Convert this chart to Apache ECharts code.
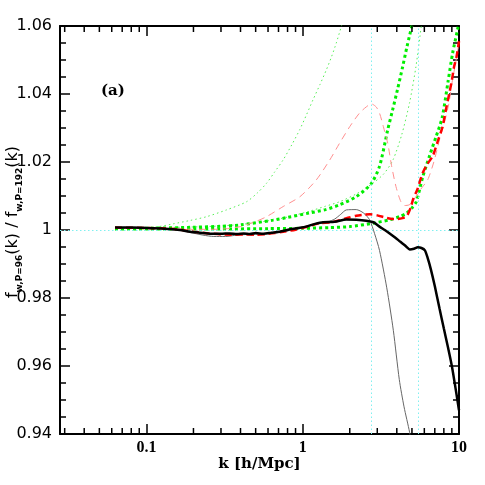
<!DOCTYPE html>
<html><head><meta charset="utf-8">
<script src="https://cdn.jsdelivr.net/npm/echarts@6/dist/echarts.min.js"></script>
<style>html,body{margin:0;padding:0;background:#fff}#c{width:485px;height:485px}</style>
</head><body><div id="c"></div>
<script>
// ---- axis ranges and ticks ----
const xMin = 0.028, xMax = 10;
const yMin = 0.94, yMax = 1.06;
const xMinorTicks = [0.03,0.04,0.05,0.06,0.07,0.08,0.09,0.2,0.3,0.4,0.5,0.6,0.7,0.8,0.9,2,3,4,5,6,7,8,9];
const refY = 1;
const nyquistK = [2.73, 5.46];

// ---- series: thick black solid ----
const kBlack = [0.063,0.08,0.1,0.13,0.164,0.19,0.22,0.26,0.3,0.34,0.38,0.42,0.46,0.5,0.56,0.63,0.71,0.83,0.94,1.05,1.2,1.35,1.6,1.9,2.2,2.55,2.85,3.1,3.35,3.6,3.9,4.2,4.5,4.85,5.15,5.45,5.75,6.05,6.3,6.6,7.0,7.5,8.0,8.5,9.0,9.5,10];
const vBlack = [1.0007,1.0007,1.0006,1.0004,1.0,0.9995,0.9992,0.9989,0.9989,0.999,0.9988,0.999,0.9988,0.9991,0.9989,0.9992,0.9995,1.0002,1.0006,1.001,1.0018,1.0023,1.0024,1.0031,1.003,1.0027,1.0022,1.001,1.0,0.999,0.9978,0.9966,0.9955,0.9943,0.9945,0.9949,0.9947,0.994,0.9918,0.9885,0.9835,0.977,0.971,0.9655,0.96,0.9535,0.947];

// ---- thin grey solid ----
const kGrey = [0.063,0.1,0.15,0.19,0.23,0.27,0.32,0.38,0.45,0.55,0.65,0.75,0.9,1.05,1.25,1.45,1.6,1.75,1.9,2.2,2.45,2.68,2.88,3.1,3.45,3.8,4.15,4.45,4.83,4.95];
const vGrey = [1.0007,1.0006,1.0003,0.9993,0.9985,0.9981,0.9981,0.9985,0.9987,0.9988,0.999,0.9995,1.0002,1.001,1.0018,1.0024,1.0032,1.0046,1.0059,1.006,1.005,1.003,0.999,0.994,0.983,0.9705,0.956,0.948,0.9405,0.937];

// ---- thick red dashed ----
const kRed = [0.063,0.1,0.15,0.2,0.25,0.3,0.36,0.42,0.5,0.58,0.66,0.75,0.9,1.05,1.28,1.5,1.7,1.95,2.2,2.45,2.7,3.0,3.3,3.65,4.0,4.35,4.65,4.9,5.1,5.4,5.85,6.3,6.8,7.3,7.85,8.3,8.7,9.0,9.3,9.65,10];
const vRed = [1.0007,1.0006,1.0003,0.9995,0.999,0.9987,0.9986,0.9987,0.9986,0.9988,0.9991,0.9995,1.0001,1.0009,1.002,1.0022,1.0028,1.0036,1.0042,1.0045,1.0046,1.0043,1.0038,1.0033,1.0032,1.0035,1.0042,1.0065,1.0092,1.0118,1.0167,1.0195,1.0218,1.026,1.0304,1.036,1.0405,1.044,1.048,1.051,1.0555];

// ---- thin pink dashed ----
const kPink = [0.063,0.1,0.15,0.2,0.27,0.33,0.4,0.5,0.586,0.75,0.96,1.22,1.49,1.72,2.0,2.31,2.55,2.75,2.95,3.1,3.3,3.5,3.7,3.95,4.25,4.5,4.8,5.05,5.3,5.8,6.3,6.9,7.5,8.0,8.6,9.0,9.5,10];
const vPink = [1.0007,1.0006,1.0004,1.0002,1.0002,1.0004,1.001,1.0025,1.0039,1.0069,1.0098,1.0147,1.0206,1.0255,1.0304,1.0344,1.0362,1.0371,1.0362,1.0344,1.03,1.0255,1.019,1.0128,1.0083,1.0072,1.0074,1.0085,1.0098,1.0125,1.0147,1.02,1.0265,1.031,1.037,1.043,1.049,1.055];

// ---- thin green dotted, steep ----
const kGreenA = [0.063,0.091,0.12,0.148,0.19,0.242,0.325,0.437,0.51,0.586,0.66,0.749,0.85,0.957,1.06,1.164,1.29,1.417,1.53,1.64,1.77,1.9];
const vGreenA = [1.0005,1.0006,1.001,1.0018,1.0028,1.0039,1.0059,1.0083,1.0108,1.0137,1.017,1.0206,1.025,1.0295,1.034,1.0383,1.0428,1.0471,1.051,1.055,1.06,1.065];

// ---- thick green dotted ----
const kGreenB = [0.063,0.1,0.2,0.3,0.4,0.646,0.8,1.1,1.4,1.72,2.2,2.73,3.1,3.5,3.76,4.05,4.36,4.65,4.99,5.2];
const vGreenB = [1.0004,1.0005,1.0008,1.0011,1.0015,1.0029,1.0037,1.005,1.006,1.0074,1.0098,1.0135,1.0187,1.0295,1.0353,1.0415,1.048,1.054,1.06,1.064];

// ---- thin green dotted ----
const kGreenC = [0.063,0.1,0.2,0.3,0.414,0.6,0.8,1.1,1.4,1.72,2.2,2.8,3.3,3.78,4.3,4.83,5.3,5.74,6.0];
const vGreenC = [1.0005,1.0006,1.0009,1.0012,1.0017,1.0027,1.0038,1.0055,1.007,1.0083,1.0106,1.0137,1.0165,1.0206,1.028,1.0375,1.048,1.06,1.066];

// ---- thick green dotted, lowest ----
const kGreenD = [0.063,0.1,0.3,0.6,1.0,1.49,2.0,2.81,3.6,4.2,4.6,5.0,5.33,5.87,6.5,7.14,7.8,8.5,9.1,9.8,10];
const vGreenD = [1.0003,1.0003,1.0003,1.0004,1.0005,1.0007,1.001,1.002,1.003,1.004,1.0049,1.0065,1.0083,1.0157,1.022,1.0275,1.033,1.0435,1.052,1.059,1.061];

const zip = (a, b) => a.map((v, i) => [v, b[i]]);

function lineSeries(k, v, color, width, type, z) {
  return { type: 'line', data: zip(k, v), showSymbol: false, smooth: 0.25, z: z,
    lineStyle: { color: color, width: width, type: type, cap: 'butt' }, silent: true, animation: false };
}

const chart = echarts.init(document.getElementById('c'), null, { renderer: 'canvas' });
const tickStyle = { color: '#000', width: 1.5 };
const axisLineStyle = { color: '#000', width: 2 };

chart.setOption({
  backgroundColor: '#fff',
  animation: false,
  title: { text: '(a)', left: 96, top: 79,
    textStyle: { fontFamily: 'DejaVu Serif', fontWeight: 'bold', fontSize: 15, color: '#000' } },
  grid: { left: 60, right: 26, top: 26, bottom: 51, containLabel: false, outerBoundsMode: 'none' },
  xAxis: [
    { type: 'log', logBase: 10, min: xMin, max: xMax, splitNumber: 3, position: 'bottom',
      axisLine: { lineStyle: axisLineStyle },
      axisTick: { inside: true, length: 10, lineStyle: tickStyle },
      axisLabel: { showMinLabel: false, margin: 6, fontFamily: 'Liberation Serif', fontWeight: 'bold', fontSize: 16, color: '#000' },
      splitLine: { show: false },
      name: 'k [h/Mpc]', nameLocation: 'middle', nameGap: 23, nameMoveOverlap: false,
      nameTextStyle: { fontFamily: 'DejaVu Serif', fontWeight: 'bold', fontSize: 15, color: '#000' } },
    { type: 'log', logBase: 10, min: xMin, max: xMax, splitNumber: 3, position: 'top',
      axisLine: { lineStyle: axisLineStyle },
      axisTick: { inside: true, length: 10, lineStyle: tickStyle },
      axisLabel: { show: false }, splitLine: { show: false } }
  ],
  yAxis: [
    { type: 'value', min: yMin, max: yMax, interval: 0.02, position: 'left',
      axisLine: { show: true, lineStyle: axisLineStyle },
      axisTick: { show: true, inside: true, length: 10, lineStyle: tickStyle },
      minorTick: { show: true, splitNumber: 4, length: 6, lineStyle: tickStyle },
      axisLabel: { margin: 8, fontFamily: 'DejaVu Sans', fontSize: 16, color: '#000' },
      splitLine: { show: false }, minorSplitLine: { show: false },
      name: '{m|f}{s|w,P=96}{m|(k) / f}{s|w,P=192}{m|(k)}',
      nameLocation: 'middle', nameRotate: 90, nameGap: 36, nameMoveOverlap: false,
      nameTextStyle: { padding: [0, 0, 0, 16],
        rich: {
          m: { fontFamily: 'DejaVu Sans', fontSize: 16, color: '#000', lineHeight: 22 },
          s: { fontFamily: 'DejaVu Sans', fontWeight: 'bold', fontSize: 9, color: '#000', verticalAlign: 'bottom', lineHeight: 22 }
        } } },
    { type: 'value', min: yMin, max: yMax, interval: 0.02, position: 'right',
      axisLine: { show: true, lineStyle: axisLineStyle },
      axisTick: { show: true, inside: true, length: 10, lineStyle: tickStyle },
      minorTick: { show: true, splitNumber: 4, length: 6, lineStyle: tickStyle },
      axisLabel: { show: false }, splitLine: { show: false } }
  ],
  series: [
    { type: 'line', data: [], silent: true, z: 1,
      markLine: { silent: true, symbol: 'none', animation: false,
        lineStyle: { color: '#80f0f0', width: 1, type: [1.5, 2.5] }, label: { show: false },
        data: [{ yAxis: refY }].concat(nyquistK.map(k => ({ xAxis: k }))) } },
    lineSeries(kGreenA, vGreenA, '#55ee55', 1, [1.5, 3], 2),
    lineSeries(kGreenC, vGreenC, '#55ee55', 1, [1.5, 3], 2),
    lineSeries(kGreenB, vGreenB, '#00ee00', 3, [3, 3], 3),
    lineSeries(kGreenD, vGreenD, '#00ee00', 3, [3, 3], 3),
    lineSeries(kPink, vPink, '#ff9090', 1, [7, 5], 4),
    lineSeries(kGrey, vGrey, '#666666', 1, 'solid', 5),
    lineSeries(kRed, vRed, '#ff0000', 2.5, [7, 4], 6),
    lineSeries(kBlack, vBlack, '#000000', 2.5, 'solid', 7),
    { type: 'custom', data: xMinorTicks.map(k => [k, yMin]), clip: false, silent: true, z: 10,
      renderItem: function (params, api) {
        const k = api.value(0);
        const b = api.coord([k, yMin]);
        const t = api.coord([k, yMax]);
        return { type: 'group', children: [
          { type: 'line', shape: { x1: b[0], y1: b[1], x2: b[0], y2: b[1] - 6 }, style: { stroke: '#000', lineWidth: 1.5 } },
          { type: 'line', shape: { x1: t[0], y1: t[1], x2: t[0], y2: t[1] + 6 }, style: { stroke: '#000', lineWidth: 1.5 } }
        ] };
      } }
  ]
});
</script></body></html>
